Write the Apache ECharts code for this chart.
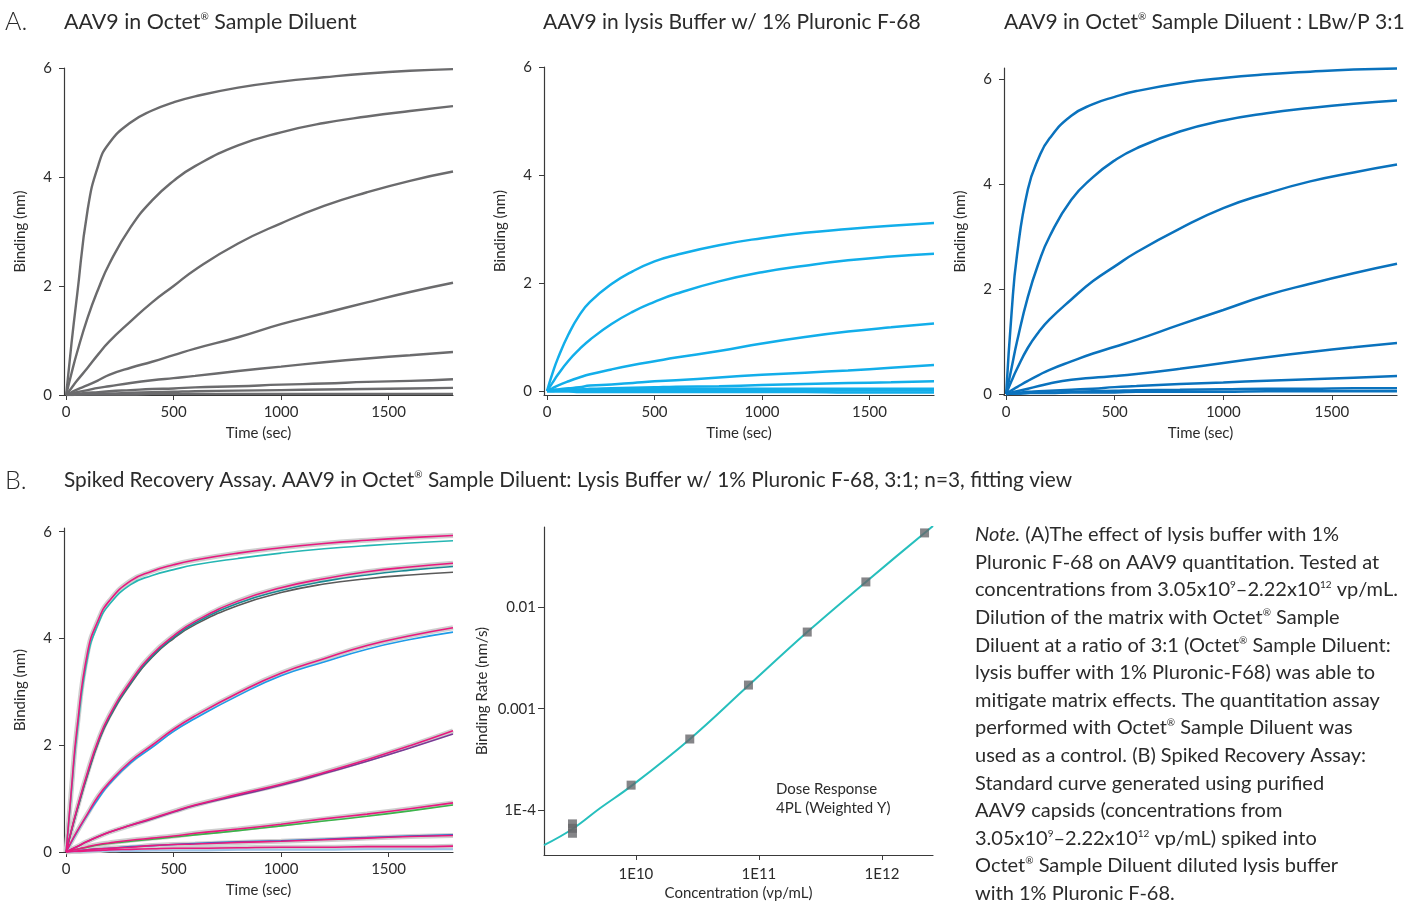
<!DOCTYPE html>
<html>
<head>
<meta charset="utf-8">
<script src="https://cdn.jsdelivr.net/npm/echarts@6/dist/echarts.min.js"></script>
<style>
html,body{margin:0;padding:0;background:#fff;}
#chart{width:1427px;height:903px;}
</style>
</head>
<body>
<div id="chart"></div>
<script>
// ---------- DATA ----------
const timeSec = [0, 25, 50, 100, 150, 200, 300, 400, 500, 600, 800, 1000, 1200, 1400, 1600, 1800];
const timeTicks = [0, 500, 1000, 1500];
const bindingTicks = [0, 2, 4, 6];

// Panel A1: AAV9 in Octet Sample Diluent (gray)
const diluent = [
  [0, 0.95, 1.8, 3.4, 4.22, 4.62, 5.0, 5.22, 5.37, 5.48, 5.64, 5.75, 5.83, 5.9, 5.95, 5.98],
  [0, 0.4, 0.77, 1.42, 1.95, 2.4, 3.08, 3.57, 3.93, 4.2, 4.58, 4.82, 4.99, 5.11, 5.21, 5.3],
  [0, 0.13, 0.26, 0.5, 0.75, 0.98, 1.35, 1.7, 2.0, 2.3, 2.78, 3.15, 3.47, 3.72, 3.93, 4.1],
  [0, 0.05, 0.1, 0.18, 0.27, 0.37, 0.5, 0.61, 0.73, 0.85, 1.06, 1.3, 1.5, 1.7, 1.89, 2.06],
  [0, 0.03, 0.05, 0.09, 0.13, 0.16, 0.22, 0.27, 0.31, 0.35, 0.44, 0.52, 0.6, 0.67, 0.73, 0.79],
  [0, 0.01, 0.02, 0.04, 0.05, 0.07, 0.09, 0.11, 0.12, 0.14, 0.16, 0.19, 0.21, 0.24, 0.26, 0.29],
  [0, 0.01, 0.01, 0.02, 0.03, 0.03, 0.04, 0.05, 0.06, 0.07, 0.08, 0.09, 0.1, 0.11, 0.12, 0.13],
  [0, 0, 0.01, 0.01, 0.01, 0.01, 0.01, 0.02, 0.02, 0.02, 0.02, 0.02, 0.02, 0.02, 0.02, 0.02]
];
// Panel A2: AAV9 in lysis buffer w/ 1% Pluronic F-68 (light blue)
const lysis = [
  [0, 0.32, 0.6, 1.05, 1.4, 1.65, 1.98, 2.22, 2.4, 2.52, 2.7, 2.83, 2.93, 3.0, 3.06, 3.11],
  [0, 0.15, 0.3, 0.56, 0.77, 0.95, 1.24, 1.47, 1.65, 1.8, 2.03, 2.2, 2.32, 2.42, 2.49, 2.54],
  [0, 0.05, 0.1, 0.18, 0.25, 0.31, 0.4, 0.48, 0.55, 0.62, 0.74, 0.88, 1.0, 1.1, 1.18, 1.25],
  [0, 0.02, 0.03, 0.05, 0.07, 0.1, 0.12, 0.15, 0.18, 0.2, 0.25, 0.3, 0.34, 0.38, 0.43, 0.48],
  [0, 0.01, 0.01, 0.02, 0.03, 0.04, 0.05, 0.06, 0.07, 0.08, 0.09, 0.11, 0.13, 0.15, 0.16, 0.18],
  [0, 0.01, 0.02, 0.02, 0.03, 0.03, 0.03, 0.03, 0.04, 0.04, 0.04, 0.04, 0.04, 0.04, 0.04, 0.04],
  [0, 0, 0.01, 0.01, 0.01, 0.01, 0.01, 0.01, 0.01, 0.01, 0.01, 0.01, 0.01, 0.01, 0.01, 0.01],
  [0, -0.01, -0.01, -0.01, -0.02, -0.02, -0.02, -0.02, -0.02, -0.02, -0.02, -0.02, -0.02, -0.03, -0.03, -0.03]
];
// Panel A3: Octet Sample Diluent : LBw/P 3:1 (blue)
const mixed = [
  [0, 1.55, 2.65, 3.9, 4.5, 4.87, 5.3, 5.52, 5.66, 5.77, 5.92, 6.02, 6.09, 6.14, 6.18, 6.2],
  [0, 0.5, 1.0, 1.85, 2.5, 3.0, 3.7, 4.13, 4.45, 4.68, 5.0, 5.21, 5.35, 5.45, 5.53, 5.59],
  [0, 0.25, 0.48, 0.88, 1.18, 1.42, 1.8, 2.15, 2.43, 2.7, 3.15, 3.54, 3.82, 4.05, 4.22, 4.37],
  [0, 0.07, 0.13, 0.25, 0.36, 0.46, 0.62, 0.77, 0.9, 1.03, 1.32, 1.6, 1.88, 2.1, 2.3, 2.48],
  [0, 0.03, 0.05, 0.1, 0.15, 0.2, 0.27, 0.31, 0.34, 0.38, 0.48, 0.59, 0.7, 0.8, 0.89, 0.97],
  [0, 0.01, 0.02, 0.04, 0.05, 0.06, 0.08, 0.1, 0.13, 0.15, 0.19, 0.22, 0.25, 0.28, 0.31, 0.34],
  [0, 0.01, 0.01, 0.02, 0.03, 0.03, 0.04, 0.05, 0.06, 0.07, 0.08, 0.09, 0.1, 0.1, 0.11, 0.11],
  [0, 0.01, 0.01, 0.02, 0.02, 0.02, 0.03, 0.03, 0.03, 0.04, 0.04, 0.04, 0.05, 0.05, 0.05, 0.05]
];
// Panel B1: spiked recovery, fitted curves (pink)
const spikedFit = [
  [0, 1.2, 2.3, 3.75, 4.35, 4.7, 5.08, 5.26, 5.38, 5.47, 5.6, 5.7, 5.78, 5.84, 5.89, 5.93],
  [0, 0.42, 0.8, 1.5, 2.1, 2.55, 3.2, 3.7, 4.05, 4.32, 4.7, 4.95, 5.12, 5.25, 5.34, 5.41],
  [0, 0.2, 0.38, 0.72, 1.05, 1.3, 1.7, 2.0, 2.3, 2.55, 2.98, 3.35, 3.62, 3.87, 4.05, 4.2],
  [0, 0.05, 0.1, 0.2, 0.29, 0.37, 0.5, 0.63, 0.76, 0.88, 1.08, 1.27, 1.49, 1.73, 1.99, 2.27],
  [0, 0.03, 0.05, 0.1, 0.14, 0.17, 0.22, 0.26, 0.3, 0.35, 0.43, 0.52, 0.62, 0.71, 0.81, 0.92],
  [0, 0.01, 0.02, 0.04, 0.06, 0.07, 0.09, 0.12, 0.14, 0.15, 0.18, 0.2, 0.23, 0.26, 0.29, 0.31],
  [0, 0.01, 0.01, 0.02, 0.03, 0.04, 0.05, 0.06, 0.07, 0.07, 0.08, 0.09, 0.09, 0.1, 0.1, 0.11]
];
// Panel B1: spiked recovery, raw replicate traces
const spikedRaw = [
  [0, 1.15, 2.2, 3.65, 4.28, 4.63, 5.01, 5.18, 5.29, 5.38, 5.5, 5.6, 5.68, 5.74, 5.79, 5.83],
  [0, 0.4, 0.77, 1.45, 2.05, 2.5, 3.15, 3.65, 4.0, 4.26, 4.62, 4.86, 5.02, 5.12, 5.19, 5.24],
  [0, 0.41, 0.78, 1.47, 2.07, 2.52, 3.17, 3.67, 4.02, 4.29, 4.66, 4.9, 5.07, 5.19, 5.28, 5.35],
  [0, 0.19, 0.37, 0.7, 1.0, 1.27, 1.67, 1.96, 2.26, 2.5, 2.93, 3.3, 3.56, 3.8, 3.98, 4.12],
  [0, 0.05, 0.1, 0.2, 0.29, 0.37, 0.5, 0.62, 0.75, 0.87, 1.06, 1.25, 1.47, 1.7, 1.95, 2.21],
  [0, 0.03, 0.05, 0.09, 0.13, 0.16, 0.2, 0.24, 0.28, 0.32, 0.4, 0.49, 0.58, 0.67, 0.77, 0.88],
  [0, 0.01, 0.02, 0.04, 0.06, 0.07, 0.1, 0.12, 0.14, 0.16, 0.19, 0.21, 0.24, 0.27, 0.3, 0.32]
];
const spikedRawColors = ['#25b6b3', '#5a5a5a', '#1a8a94', '#1e9be8', '#7a3a96', '#3cb44b', '#1f74cc'];
const spikedBaseline = [0, 0.01, 0.01, 0.01, 0.02, 0.02, 0.02, 0.03, 0.03, 0.03, 0.04, 0.04, 0.04, 0.05, 0.05, 0.05];

// Panel B2: dose response
const concStd = [3.05e9, 3.05e9, 3.05e9, 9.14e9, 2.74e10, 8.22e10, 2.47e11, 7.4e11, 2.22e12];
const rateStd = [7.3e-5, 6.6e-5, 5.9e-5, 1.76e-4, 5.02e-4, 1.71e-3, 5.7e-3, 0.0178, 0.0542];
const concFit = [1.79e9, 3.05e9, 5.1e9, 9.14e9, 2.74e10, 8.22e10, 2.47e11, 7.4e11, 2.22e12, 2.6e12];
const rateFit = [4.5e-5, 6.5e-5, 1.04e-4, 1.72e-4, 5.0e-4, 1.69e-3, 5.7e-3, 0.0178, 0.0542, 0.0635];
const concTicks = [1e10, 1e11, 1e12];
const concTickLabels = ['1E10', '1E11', '1E12'];
const rateTicks = [1e-4, 1e-3, 1e-2];
const rateTickLabels = ['1E-4', '0.001', '0.01'];

// ---------- CHART ----------
const FONT = 'Lato';
const TXT = '#2b2b2b';
const AX = '#3a3a3a';

function timeAxis(gi, min) {
  return {
    type: 'value', gridIndex: gi, min: min, max: 1800,
    name: 'Time (sec)', nameLocation: 'middle', nameGap: 31,
    nameTextStyle: {fontFamily: FONT, fontSize: 15, color: TXT},
    axisLine: {onZero: false, lineStyle: {color: AX, width: 1.2}},
    axisTick: {show: true, length: 5, customValues: timeTicks, lineStyle: {color: AX}},
    axisLabel: {fontFamily: FONT, fontSize: 15, color: TXT, margin: 10, customValues: timeTicks, formatter: v => String(v)},
    splitLine: {show: false}
  };
}
function bindingAxis(gi, min, max) {
  return {
    type: 'value', gridIndex: gi, min: min, max: max,
    name: 'Binding (nm)', nameLocation: 'middle', nameGap: 36,
    nameTextStyle: {fontFamily: FONT, fontSize: 15, color: TXT},
    axisLine: {show: true, onZero: false, lineStyle: {color: AX, width: 1.2}},
    axisTick: {show: true, length: 5, customValues: bindingTicks, lineStyle: {color: AX}},
    axisLabel: {fontFamily: FONT, fontSize: 15, color: TXT, margin: 12, customValues: bindingTicks, formatter: v => String(v)},
    splitLine: {show: false}
  };
}
function curve(vals, gi, color, width, z) {
  return {
    type: 'line', xAxisIndex: gi, yAxisIndex: gi, silent: true,
    data: timeSec.map((t, i) => [t, vals[i]]),
    showSymbol: false, smooth: 0.5,
    lineStyle: {color: color, width: width}, z: z || 2
  };
}

const series = [];
diluent.forEach(v => series.push(curve(v, 0, '#6b6b6d', 2.4)));
lysis.forEach(v => series.push(curve(v, 1, '#12aeea', 2.5)));
mixed.forEach(v => series.push(curve(v, 2, '#0a72bd', 2.5)));
spikedFit.forEach(v => series.push(curve(v, 3, '#cfcfcf', 5, 1)));
spikedRaw.forEach((v, i) => series.push(curve(v, 3, spikedRawColors[i], 1.6, 2)));
spikedFit.forEach(v => series.push(curve(v, 3, '#e8197f', 1.6, 3)));
series.push(curve(spikedBaseline, 3, '#9fc4e8', 2, 2));

series.push({
  type: 'line', xAxisIndex: 4, yAxisIndex: 4, silent: true,
  data: concFit.map((c, i) => [c, rateFit[i]]),
  showSymbol: false, smooth: 0.4, lineStyle: {color: '#26bfbd', width: 2}, z: 2
});
series.push({
  type: 'scatter', xAxisIndex: 4, yAxisIndex: 4, silent: true,
  data: concStd.map((c, i) => [c, rateStd[i]]),
  symbol: 'rect', symbolSize: 9, itemStyle: {color: '#66676a'}, z: 3
});

function sup(s) { return '{s|' + s + '}'; }
const R = sup('®');
const titleRich = {s: {fontFamily: FONT, fontSize: 10, verticalAlign: 'top', lineHeight: 22, padding: [1, 0, 0, 0], fill: TXT}};

const noteLines = [
  '{i|Note.} (A)The effect of lysis buffer with 1%',
  'Pluronic F-68 on AAV9 quantitation. Tested at',
  'concentrations from 3.05x10' + sup('9') + '–2.22x10' + sup('12') + ' vp/mL.',
  'Dilution of the matrix with Octet' + R + ' Sample',
  'Diluent at a ratio of 3:1 (Octet' + R + ' Sample Diluent:',
  'lysis buffer with 1% Pluronic-F68) was able to',
  'mitigate matrix effects. The quantitation assay',
  'performed with Octet' + R + ' Sample Diluent was',
  'used as a control. (B) Spiked Recovery Assay:',
  'Standard curve generated using purified',
  'AAV9 capsids (concentrations from',
  '3.05x10' + sup('9') + '–2.22x10' + sup('12') + ' vp/mL) spiked into',
  'Octet' + R + ' Sample Diluent diluted lysis buffer',
  'with 1% Pluronic F-68.'
];

function txt(x, y, text, size, extra) {
  return {
    type: 'text', x: x, y: y, silent: true,
    style: Object.assign({text: text, fontFamily: FONT, fontSize: size, fill: TXT, verticalAlign: 'middle', rich: titleRich}, extra || {})
  };
}

const option = {
  animation: false,
  backgroundColor: '#ffffff',
  grid: [
    {left: 64, top: 68, width: 389, height: 327},
    {left: 544, top: 67, width: 390, height: 328},
    {left: 1004, top: 68, width: 393, height: 327},
    {left: 64, top: 528, width: 389, height: 324},
    {left: 544, top: 527, width: 389, height: 328}
  ],
  xAxis: [
    timeAxis(0, -10), timeAxis(1, -14), timeAxis(2, -10), timeAxis(3, -10),
    {
      type: 'log', gridIndex: 4, logBase: 10, min: 1.79e9, max: 2.6e12,
      name: 'Concentration (vp/mL)', nameLocation: 'middle', nameGap: 31,
      nameTextStyle: {fontFamily: FONT, fontSize: 15, color: TXT},
      axisLine: {onZero: false, lineStyle: {color: AX, width: 1.2}},
      axisTick: {length: 5, customValues: concTicks, lineStyle: {color: AX}},
      axisLabel: {fontFamily: FONT, fontSize: 15, color: TXT, margin: 12, customValues: concTicks,
        formatter: v => { const k = concTicks.findIndex(t => Math.abs(Math.log10(t) - Math.log10(v)) < 0.01); return k >= 0 ? concTickLabels[k] : ''; }},
      splitLine: {show: false}
    }
  ],
  yAxis: [
    bindingAxis(0, 0, 6), bindingAxis(1, -0.074, 6), bindingAxis(2, -0.02, 6.21), bindingAxis(3, 0, 6.07),
    {
      type: 'log', gridIndex: 4, logBase: 10, min: 3.6e-5, max: 0.062,
      name: 'Binding Rate (nm/s)', nameLocation: 'middle', nameGap: 54,
      nameTextStyle: {fontFamily: FONT, fontSize: 15, color: TXT},
      axisLine: {show: true, onZero: false, lineStyle: {color: AX, width: 1.2}},
      axisTick: {show: true, length: 6, customValues: rateTicks, lineStyle: {color: AX}},
      axisLabel: {fontFamily: FONT, fontSize: 15, color: TXT, margin: 8, customValues: rateTicks,
        formatter: v => { const k = rateTicks.findIndex(t => Math.abs(Math.log10(t) - Math.log10(v)) < 0.01); return k >= 0 ? rateTickLabels[k] : ''; }},
      splitLine: {show: false}
    }
  ],
  series: series,
  graphic: [
    txt(5, 22, 'A.', 25, {fontWeight: 300}),
    txt(5, 481, 'B.', 25, {fontWeight: 300}),
    txt(64, 22, 'AAV9 in Octet' + R + ' Sample Diluent', 21.4),
    txt(543, 22, 'AAV9 in lysis Buffer w/ 1% Pluronic F-68', 21),
    txt(1004, 22, 'AAV9 in Octet' + R + ' Sample Diluent : LBw/P 3:1', 21),
    txt(64, 480, 'Spiked Recovery Assay. AAV9 in Octet' + R + ' Sample Diluent: Lysis Buffer w/ 1% Pluronic F-68, 3:1; n=3, fitting view', 20.8),
    txt(776, 789, 'Dose Response', 15),
    txt(776, 808, '4PL (Weighted Y)', 15),
    {
      type: 'text', x: 975, y: 521, silent: true,
      style: {
        text: noteLines.join('\n'), fontFamily: FONT, fontSize: 20, lineHeight: 27.6, fill: TXT, verticalAlign: 'top',
        rich: {
          i: {fontFamily: FONT, fontSize: 20, fontStyle: 'italic', lineHeight: 27.6, fill: TXT},
          s: {fontFamily: FONT, fontSize: 10, verticalAlign: 'top', lineHeight: 12, padding: [4, 0, 0, 0], fill: TXT}
        }
      }
    }
  ]
};

const chart = echarts.init(document.getElementById('chart'), null, {renderer: 'canvas'});
chart.setOption(option);
</script>
</body>
</html>
